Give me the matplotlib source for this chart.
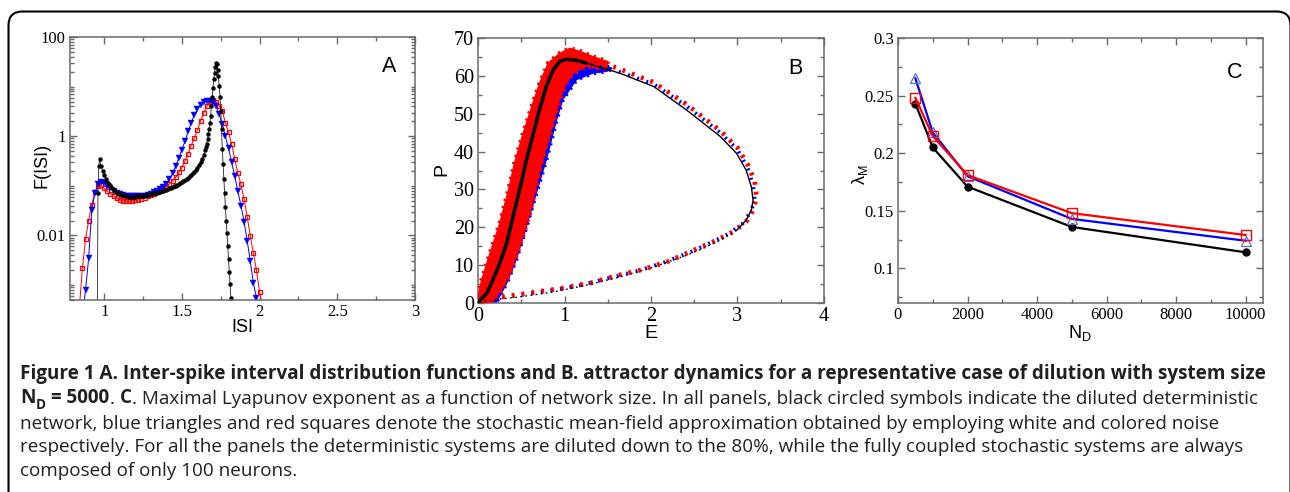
import numpy as np
import matplotlib
matplotlib.use("Agg")
import matplotlib.pyplot as plt
from matplotlib.patches import FancyBboxPatch, Polygon
from matplotlib.transforms import IdentityTransform
from matplotlib.ticker import MultipleLocator, LogLocator, NullFormatter

# ---------------- Panel A: ISI distribution functions ----------------
isi_black_x = [0.955, 0.96, 0.965, 0.97, 0.98, 0.99, 1.00, 1.01, 1.02, 1.03, 1.04, 1.05, 1.06, 1.07, 1.08, 1.09,
               1.10, 1.11, 1.12, 1.13, 1.14, 1.15, 1.16, 1.17, 1.18, 1.19, 1.20, 1.21, 1.22, 1.23, 1.24, 1.25,
               1.26, 1.27, 1.28, 1.29, 1.30, 1.31, 1.32, 1.33, 1.34, 1.35, 1.36, 1.37, 1.38, 1.39, 1.40, 1.41,
               1.42, 1.43, 1.44, 1.45, 1.46, 1.47, 1.48, 1.49, 1.50, 1.51, 1.52, 1.53, 1.54, 1.55, 1.56, 1.57,
               1.58, 1.59, 1.60, 1.61, 1.62, 1.63, 1.64, 1.65, 1.655, 1.66, 1.665, 1.67, 1.675, 1.68, 1.685,
               1.69, 1.695, 1.70, 1.705, 1.71, 1.715, 1.72, 1.725, 1.73, 1.735, 1.74, 1.745, 1.75, 1.755, 1.76,
               1.765, 1.77, 1.775, 1.78, 1.785, 1.79, 1.795, 1.80, 1.805, 1.81, 1.815, 1.82]
isi_black_f = [1e-4, 0.072, 0.25, 0.34, 0.25, 0.20, 0.166, 0.138, 0.12, 0.107, 0.098, 0.089, 0.083, 0.078, 0.074, 0.071,
               0.068, 0.066, 0.065, 0.063, 0.062, 0.062, 0.060, 0.060, 0.060, 0.060, 0.060, 0.062, 0.062, 0.062, 0.063, 0.063,
               0.065, 0.065, 0.066, 0.068, 0.068, 0.069, 0.071, 0.072, 0.072, 0.074, 0.076, 0.078, 0.079, 0.081, 0.083, 0.085,
               0.089, 0.091, 0.093, 0.098, 0.100, 0.105, 0.11, 0.115, 0.12, 0.126, 0.132, 0.138, 0.145, 0.155, 0.166, 0.178,
               0.19, 0.21, 0.23, 0.26, 0.30, 0.35, 0.42, 0.52, 0.60, 0.71, 0.87, 1.1, 1.41, 1.86, 2.6,
               4.0, 6.3, 9.5, 14, 19, 25, 30, 28, 22, 16, 10.5, 6.3, 3.2, 1.4, 0.56,
               0.28, 0.14, 0.071, 0.038, 0.020, 0.011, 0.006, 0.0033, 0.0018, 0.00105, 0.00056, 0.00032]

isi_red_x = [0.84, 0.86, 0.88, 0.90, 0.92, 0.94, 0.96, 0.98, 1.00, 1.02, 1.04, 1.06, 1.08, 1.10, 1.12, 1.14,
             1.16, 1.18, 1.20, 1.22, 1.24, 1.26, 1.28, 1.30, 1.32, 1.34, 1.36, 1.38, 1.40, 1.42, 1.44, 1.46,
             1.48, 1.50, 1.52, 1.54, 1.56, 1.58, 1.60, 1.62, 1.64, 1.66, 1.68, 1.70, 1.72, 1.74, 1.76, 1.78,
             1.80, 1.82, 1.84, 1.86, 1.88, 1.90, 1.92, 1.94, 1.96, 1.98, 2.00, 2.02]
isi_red_f = [3.5e-4, 2.2e-3, 8.3e-3, 0.020, 0.042, 0.074, 0.10, 0.105, 0.089, 0.078, 0.069, 0.062, 0.056, 0.052, 0.050, 0.049,
             0.049, 0.050, 0.051, 0.052, 0.054, 0.058, 0.062, 0.065, 0.069, 0.074, 0.081, 0.089, 0.098, 0.11, 0.126, 0.148,
             0.186, 0.234, 0.316, 0.447, 0.646, 0.93, 1.35, 2.0, 2.95, 4.0, 4.9, 5.4, 5.0, 4.0, 3.2, 1.86,
             1.2, 0.69, 0.35, 0.18, 0.107, 0.055, 0.024, 0.0098, 0.0044, 0.0020, 7.1e-4, 3.5e-4]

isi_blue_x = [0.86, 0.88, 0.90, 0.92, 0.94, 0.96, 0.98, 1.00, 1.02, 1.04, 1.06, 1.08, 1.10, 1.12, 1.14, 1.16,
              1.18, 1.20, 1.22, 1.24, 1.26, 1.28, 1.30, 1.32, 1.34, 1.36, 1.38, 1.40, 1.42, 1.44, 1.46, 1.48,
              1.50, 1.52, 1.54, 1.56, 1.58, 1.60, 1.62, 1.64, 1.66, 1.68, 1.70, 1.72, 1.74, 1.76, 1.78, 1.80,
              1.82, 1.84, 1.86, 1.88, 1.90, 1.92, 1.94, 1.96, 1.98, 2.00]
isi_blue_f = [2.5e-4, 7.9e-4, 3.5e-3, 0.032, 0.071, 0.107, 0.12, 0.112, 0.10, 0.089, 0.079, 0.072, 0.068, 0.065, 0.063, 0.062,
              0.062, 0.062, 0.062, 0.062, 0.063, 0.066, 0.069, 0.074, 0.079, 0.085, 0.095, 0.11, 0.135, 0.18, 0.25, 0.36,
              0.54, 0.79, 1.26, 1.86, 2.7, 3.5, 4.3, 4.9, 5.2, 5.2, 4.8, 4.0, 2.75, 1.78, 1.0, 0.575,
              0.30, 0.158, 0.079, 0.040, 0.019, 0.0079, 0.0030, 0.0011, 5.6e-4, 3.2e-4]

# ---------------- Panel B: attractor (E, P) ----------------
det_left_E = [0.0, 0.02, 0.1, 0.17, 0.25, 0.33, 0.405, 0.48, 0.56, 0.64, 0.71, 0.79, 0.87, 0.945, 1.02, 1.14, 1.25]
det_left_P = [0.0, 0.7, 2.5, 6.0, 10.4, 15.7, 22.8, 29.8, 37.8, 44.8, 51.0, 57.2, 61.6, 63.8, 64.4, 64.1, 63.4]
det_right_E = [1.25, 1.64, 2.03, 2.41, 2.80, 2.99, 3.10, 3.16, 3.18, 3.16, 3.10, 2.99]
det_right_P = [63.4, 60.7, 57.2, 51.0, 44.0, 39.5, 35.1, 30.7, 27.2, 24.5, 21.9, 19.2]
det_low_E = [2.99, 2.80, 2.60, 2.41, 2.03, 1.64, 1.25, 0.87, 0.48, 0.10, 0.0]
det_low_P = [19.2, 16.6, 14.4, 12.6, 9.5, 6.9, 4.7, 2.9, 1.6, 0.7, 0.0]

red_band_E = [0.0, 0.0, 0.04, 0.135, 0.25, 0.35, 0.42, 0.52, 0.62, 0.71, 0.81, 0.945, 1.06, 1.18, 1.33, 1.5,
              1.49, 1.4, 1.25, 1.10, 1.02, 0.945, 0.87, 0.79, 0.69, 0.60, 0.48, 0.37, 0.29, 0.17, 0.05]
red_band_P = [0.0, 1.6, 6.0, 13.0, 21.0, 29.8, 36.9, 44.8, 51.9, 58.0, 63.4, 66.0, 67.3, 66.5, 65.1, 63.8,
              62.0, 62.0, 62.5, 60.7, 58.0, 53.7, 47.5, 41.3, 32.5, 23.7, 14.8, 7.8, 4.2, 0.3, 0.0]
blue_band_E = [0.0, 0.02, 0.08, 0.18, 0.30, 0.40, 0.50, 0.60, 0.70, 0.80, 0.93, 1.06, 1.20, 1.40, 1.55,
               1.49, 1.33, 1.14, 0.98, 0.91, 0.79, 0.675, 0.56, 0.44, 0.33, 0.21]
blue_band_P = [0.0, 2.0, 6.5, 14.0, 24.0, 32.0, 40.0, 48.0, 54.5, 59.5, 63.5, 65.5, 65.0, 63.2, 62.0,
               61.2, 60.7, 59.0, 53.7, 48.4, 37.8, 29.0, 20.1, 11.3, 5.1, 0.0]

red_loop_E = [1.3, 1.64, 2.03, 2.41, 2.80, 3.0, 3.12, 3.2, 3.22, 3.18, 3.1, 2.95, 2.75, 2.5, 2.2, 1.9,
              1.6, 1.3, 1.0, 0.7, 0.4, 0.15, 0.0]
red_loop_P = [64.5, 61.8, 58.3, 52.5, 45.5, 41.0, 36.5, 32.0, 28.0, 24.5, 21.5, 18.8, 16.5, 14.0, 11.0, 8.8,
              7.2, 5.3, 4.0, 3.0, 2.0, 1.2, 0.3]
blue_loop_E = [1.3, 1.64, 2.03, 2.41, 2.80, 3.0, 3.12, 3.18, 3.2, 3.15, 3.06, 2.9, 2.7, 2.45, 2.15, 1.85,
               1.55, 1.25, 0.95, 0.65, 0.35, 0.1]
blue_loop_P = [63.0, 61.0, 57.8, 52.0, 45.0, 40.5, 35.5, 31.0, 27.0, 24.0, 21.0, 18.3, 16.0, 13.4, 10.7, 8.5,
               6.8, 5.0, 3.7, 2.6, 1.7, 0.9]

# ---------------- Panel C: maximal Lyapunov exponent ----------------
lyap_N = [500, 1000, 2000, 5000, 10000]
lyap_black = [0.243, 0.205, 0.171, 0.136, 0.114]
lyap_blue = [0.265, 0.218, 0.180, 0.143, 0.124]
lyap_red = [0.248, 0.215, 0.181, 0.148, 0.129]

# ---------------- figure ----------------
W, H = 1290, 492
plt.rcParams['font.family'] = ['Liberation Serif', 'DejaVu Serif']
plt.rcParams['mathtext.fontset'] = 'dejavusans'
fig = plt.figure(figsize=(W / 100, H / 100), dpi=100)

SANS = ['Liberation Sans', 'DejaVu Sans']
SPINE = '#6a6a6a'


def px_axes(l, t, r, b):
    return fig.add_axes([l / W, 1 - b / H, (r - l) / W, (b - t) / H])


def style(ax, lsize):
    for s in ax.spines.values():
        s.set_color(SPINE)
        s.set_linewidth(1.1)
    ax.tick_params(which='both', direction='in', top=True, right=True, color=SPINE, width=1.0)
    ax.tick_params(which='major', length=5, labelsize=lsize, pad=3)
    ax.tick_params(which='minor', length=2.8)


def fig_label(x, y, s, size, rot=0):
    fig.text(x / W, 1 - y / H, s, fontsize=size, family=SANS, rotation=rot,
             ha='center', va='center')


# Panel A
axA = px_axes(70, 37, 415, 300)
axA.plot(isi_red_x, isi_red_f, color='red', lw=0.7, marker='s', ms=3.4, mfc='none', mec='red', mew=0.9)
axA.plot(isi_blue_x, isi_blue_f, color='blue', lw=0.7, marker='v', ms=4.0, mfc='blue', mec='blue', mew=0.3)
axA.plot(isi_black_x, isi_black_f, color='#222222', lw=0.6, marker='o', ms=3.2, mfc='black', mec='black', mew=0)
axA.set_yscale('log')
axA.set_xlim(0.78, 3)
axA.set_ylim(5e-4, 100)
axA.set_yticks([0.01, 1, 100], labels=['0.01', '1', '100'])
axA.yaxis.set_minor_locator(LogLocator(base=10, subs=np.arange(1, 10), numticks=30))
axA.yaxis.set_minor_formatter(NullFormatter())
axA.set_xticks([1, 1.5, 2, 2.5, 3], labels=['1', '1.5', '2', '2.5', '3'])
axA.xaxis.set_minor_locator(MultipleLocator(0.25))
style(axA, 12)
fig_label(42, 165, 'F(ISI)', 13, 90)
fig_label(242, 327, 'ISI', 13)
fig_label(389, 67, 'A', 15.5)

# Panel B
axB = px_axes(478, 38, 824, 303)
axB.add_patch(Polygon(np.column_stack([blue_band_E, blue_band_P]), closed=True, fc='blue', ec='blue', lw=0.8, zorder=2))
axB.plot(blue_band_E + blue_band_E[:1], blue_band_P + blue_band_P[:1], color='blue', lw=3.0,
         ls=(0, (0.5, 1.3)), zorder=2.2)
axB.add_patch(Polygon(np.column_stack([red_band_E, red_band_P]), closed=True, fc='red', ec='red', lw=0.8, zorder=3))
axB.plot(red_band_E + red_band_E[:1], red_band_P + red_band_P[:1], color='red', lw=3.2,
         ls=(0, (0.5, 1.2)), zorder=3.2)
axB.plot(blue_loop_E, blue_loop_P, color='blue', lw=2.8, ls=(0, (0.5, 2.0)), zorder=3)
axB.plot(red_loop_E, red_loop_P, color='red', lw=3.4, ls=(1.2, (0.6, 1.5)), zorder=3.5)
axB.plot(det_left_E, det_left_P, color='black', lw=2.6, zorder=5, solid_capstyle='round')
axB.plot(det_right_E, det_right_P, color='black', lw=1.0, zorder=5)
axB.plot(det_low_E, det_low_P, color='black', lw=1.0, ls=(0, (1.2, 2.5)), zorder=5)
axB.set_xlim(0, 4)
axB.set_ylim(0, 70)
axB.xaxis.set_major_locator(MultipleLocator(1))
axB.xaxis.set_minor_locator(MultipleLocator(0.5))
axB.yaxis.set_major_locator(MultipleLocator(10))
axB.yaxis.set_minor_locator(MultipleLocator(5))
style(axB, 14.5)
fig_label(442, 170, 'P', 14, 90)
fig_label(651, 333, 'E', 14)
fig_label(795, 68, 'B', 15.5)

# Panel C
axC = px_axes(898, 38, 1263, 303)
axC.plot(lyap_N, lyap_black, color='black', lw=1.6, marker='o', ms=5.0, mfc='black', mec='black', zorder=3)
axC.plot(lyap_N, lyap_blue, color='blue', lw=1.6, marker='^', ms=7.0, mfc='none', mec='#5a6ee0', mew=0.9, zorder=4)
axC.plot(lyap_N, lyap_red, color='red', lw=1.6, marker='s', ms=6.5, mfc='none', mec='red', mew=1.0, zorder=5)
axC.set_xlim(0, 10500)
axC.set_ylim(0.07, 0.3)
axC.set_xticks([0, 2000, 4000, 6000, 8000, 10000])
axC.xaxis.set_minor_locator(MultipleLocator(1000))
axC.set_yticks([0.1, 0.15, 0.2, 0.25, 0.3], labels=['0.1', '0.15', '0.2', '0.25', '0.3'])
axC.yaxis.set_minor_locator(MultipleLocator(0.025))
style(axC, 12)
fig_label(860, 175, r'$\mathregular{\lambda_M}$', 13, 90)
fig_label(1080, 333, r'$\mathregular{N_D}$', 13)
fig_label(1235, 73, 'C', 15.5)

# Outer rounded frame
frame = FancyBboxPatch((8.5, -40), 1282, H - 11.5 + 40, boxstyle='round,pad=0,rounding_size=14',
                       transform=IdentityTransform(), fill=False, lw=1.5, ec='black')
fig.add_artist(frame)

# Caption
CAP_FONT = ['Open Sans', 'DejaVu Sans']
CAP_FS = 13.55
CAP_COLOR = '#231f20'


def caption_line(y_px, pieces):
    prev = None
    last_main = None
    for txt, bold, sub, gap in pieces:
        kw = dict(fontsize=CAP_FS * (0.72 if sub else 1.0), fontweight='bold' if bold else 'normal',
                  family=CAP_FONT, color=CAP_COLOR, va='bottom', ha='left')
        if prev is None:
            t = fig.text(20 / W, 1 - y_px / H, txt, **kw)
        elif sub:
            t = fig.add_artist(matplotlib.text.Annotation(
                txt, xy=(1, 0), xycoords=prev, xytext=(gap * CAP_FS, -2.8), textcoords='offset points', **kw))
        else:
            t = fig.add_artist(matplotlib.text.Annotation(
                txt, xy=(1, 0), xycoords=(prev, last_main), xytext=(gap * CAP_FS, 0),
                textcoords='offset points', **kw))
        prev = t
        if not sub:
            last_main = t


caption_line(384, [("Figure 1 A. Inter-spike interval distribution functions and B. attractor dynamics for a "
                    "representative case of dilution with system size", True, False, 0)])
caption_line(408, [("N", True, False, 0), ("D", True, True, 0.02), ("= 5000", True, False, 0.27),
                   (".", False, False, 0.02), ("C", True, False, 0.27),
                   (". Maximal Lyapunov exponent as a function of network size. In all panels, black circled "
                    "symbols indicate the diluted deterministic", False, False, 0.02)])
caption_line(433, [("network, blue triangles and red squares denote the stochastic mean-field approximation "
                    "obtained by employing white and colored noise", False, False, 0)])
caption_line(456, [("respectively. For all the panels the deterministic systems are diluted down to the 80%, "
                    "while the fully coupled stochastic systems are always", False, False, 0)])
caption_line(480, [("composed of only 100 neurons.", False, False, 0)])

fig.savefig('out.png', dpi=100)
